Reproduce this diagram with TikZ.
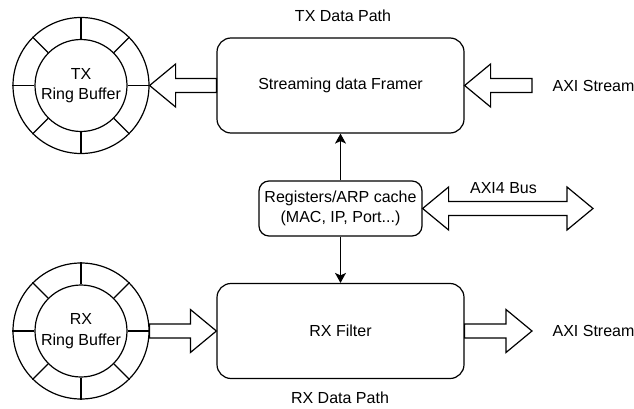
\documentclass[tikz,border=0pt]{standalone}
\usepackage{fontspec}
\setmainfont{Liberation Sans}
\usetikzlibrary{calc,arrows.meta}

\tikzset{
	block/.style={draw, rounded corners=14pt, minimum width=247pt, minimum height=95pt, inner sep=0pt},
	regbox/.style={draw, rounded corners=10pt, minimum width=163pt, minimum height=55pt, inner sep=0pt, align=center},
	ring/.style={draw, circle, minimum size=136pt, inner sep=0pt},
	ringcore/.style={draw, circle, minimum size=92pt, inner sep=0pt, align=center},
	fat/.style={draw, fill=white, line join=miter},
	thinarrow/.style={-{Stealth[length=10pt,width=11pt,inset=2.5pt]}}
}

% hollow block arrow from #1 to #2, tip at #2
\newcommand{\fatlink}[2]{%
	\draw[fat] ($(#1)!7pt!90:(#2)$)
		-- ($($(#2)!26pt!(#1)$)!7pt!90:(#2)$)
		-- ($($(#2)!26pt!(#1)$)!21.5pt!90:(#2)$)
		-- (#2)
		-- ($($(#2)!26pt!(#1)$)!21.5pt!-90:(#2)$)
		-- ($($(#2)!26pt!(#1)$)!7pt!-90:(#2)$)
		-- ($(#1)!7pt!-90:(#2)$) -- cycle;}

% hollow block arrow with a tip at both ends
\newcommand{\fatbus}[2]{%
	\draw[fat] (#1)
		-- ($($(#1)!26pt!(#2)$)!21.5pt!90:(#2)$)
		-- ($($(#1)!26pt!(#2)$)!7pt!90:(#2)$)
		-- ($($(#2)!26pt!(#1)$)!7pt!-90:(#1)$)
		-- ($($(#2)!26pt!(#1)$)!21.5pt!-90:(#1)$)
		-- (#2)
		-- ($($(#2)!26pt!(#1)$)!21.5pt!90:(#1)$)
		-- ($($(#2)!26pt!(#1)$)!7pt!90:(#1)$)
		-- ($($(#1)!26pt!(#2)$)!7pt!-90:(#2)$)
		-- ($($(#1)!26pt!(#2)$)!21.5pt!-90:(#2)$) -- cycle;}

\begin{document}
\begin{tikzpicture}[x=1pt, y=-1pt, line width=1.2pt, font=\fontsize{16}{20.5}\selectfont]
	\useasboundingbox (0,0) rectangle (634,409);

	% ring buffers
	\node[ring] (txring) at (81,85.5) {};
	\node[ringcore] (txcore) at (81,85.5) {TX\\Ring Buffer};
	\node[ring] (rxring) at (81,331) {};
	\node[ringcore] (rxcore) at (81,331) {RX\\Ring Buffer};
	\foreach \a in {0,45,...,315} {
		\draw (txcore.\a) -- (txring.\a);
		\draw (rxcore.\a) -- (rxring.\a);
	}

	% data path blocks
	\node[block] (framer) at (340.5,85.5) {Streaming data Framer};
	\node[block] (filter) at (340.5,331) {RX Filter};
	\node[regbox] (regs) at (340.5,208.5) {Registers/ARP cache\\(MAC, IP, Port...)};

	\node (txpath) at (343,16) {TX Data Path};
	\node (rxpath) at (340,398) {RX Data Path};
	\node[anchor=west, inner sep=0pt] (txaxi) at (552,85.5) {AXI Stream};
	\node[anchor=west, inner sep=0pt] (rxaxi) at (552,331) {AXI Stream};
	\node (buslabel) at (503.5,188) {AXI4 Bus};

	\coordinate (txin) at (532,85.5);
	\coordinate (rxout) at (532,331);
	\coordinate (busend) at (593,208.5);

	% connectors
	\fatlink{txin}{framer.east}
	\fatlink{framer.west}{txring.east}
	\fatlink{rxring.east}{filter.west}
	\fatlink{filter.east}{rxout}
	\fatbus{regs.east}{busend}

	\draw[thinarrow] (regs) -- (framer);
	\draw[thinarrow] (regs) -- (filter);

\end{tikzpicture}
\end{document}
